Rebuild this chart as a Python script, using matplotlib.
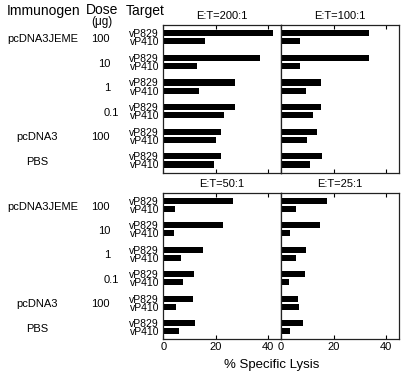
import matplotlib
matplotlib.use("Agg")
import matplotlib.pyplot as plt
import matplotlib.transforms as mtransforms

plt.rcParams['font.family'] = ['Liberation Sans', 'DejaVu Sans']

# data
targets = ["vP829", "vP410"]
immunogens = ["pcDNA3JEME", "", "", "", "pcDNA3", "PBS"]
doses = ["100", "10", "1", "0.1", "100", ""]
ratios = ["E:T=200:1", "E:T=100:1", "E:T=50:1", "E:T=25:1"]

# % specific lysis, per group: (vP829, vP410)
lysis_200 = [(41.9, 16.0), (37.1, 13.0), (27.5, 13.6), (27.6, 23.2), (22.0, 20.0), (22.0, 19.2)]
lysis_100 = [(33.6, 7.3), (33.5, 7.4), (15.1, 9.6), (15.4, 12.3), (13.8, 10.0), (15.6, 10.9)]
lysis_50 = [(26.8, 4.3), (22.8, 3.9), (15.1, 6.8), (11.6, 7.6), (11.5, 4.8), (12.2, 5.9)]
lysis_25 = [(17.6, 5.7), (14.9, 3.6), (9.6, 5.7), (9.2, 3.1), (6.4, 6.9), (8.5, 3.6)]
all_lysis = [lysis_200, lysis_100, lysis_50, lysis_25]

W, H = 407, 379
fig = plt.figure(figsize=(W / 100, H / 100), dpi=100)

# panel boxes in pixels (left, top, right, bottom)
boxes = [(163.3, 25, 281, 172.7), (281, 25, 399.3, 172.7),
         (163.3, 192.7, 281, 339.3), (281, 192.7, 399.3, 339.3)]

axes = []
for k, (l, t, r, b) in enumerate(boxes):
    ax = fig.add_axes([l / W, 1 - b / H, (r - l) / W, (b - t) / H])
    vals = all_lysis[k]
    ypos, xs = [], []
    for i, (a, c) in enumerate(vals):
        ypos += [3 * i, 3 * i + 1]
        xs += [a, c]
    ax.barh(ypos, xs, height=0.75, color='black')
    ax.set_xlim(0, 45)
    ax.set_ylim(17, -1)
    ax.set_xticks([0, 20, 40])
    ax.tick_params(axis='x', direction='in', top=True, length=3, width=0.8,
                   labelsize=8, pad=2)
    ax.set_title(ratios[k], fontsize=8, pad=4)
    if k % 2 == 0:
        ax.set_yticks(ypos)
        ax.set_yticklabels(targets * 6)
        ax.tick_params(axis='y', length=0, labelsize=7.5, pad=3)
    else:
        ax.set_yticks([])
    if k < 2:
        ax.set_xticklabels([])
    for s in ax.spines.values():
        s.set_linewidth(0.9)
        s.set_color('#222222')
    axes.append(ax)

# left-hand labels
imm_x = [42.5, 0, 0, 0, 37.5, 37.5]
dose_x = [100, 104, 107, 111.5, 100, 0]
for ax in (axes[0], axes[2]):
    tr = mtransforms.blended_transform_factory(fig.transFigure, ax.transData)
    for i in range(6):
        y = 3 * i + 0.7
        if immunogens[i]:
            fig.text(imm_x[i] / W, y, immunogens[i], transform=tr, fontsize=8,
                     ha='center', va='center')
        if doses[i]:
            fig.text(dose_x[i] / W, y, doses[i], transform=tr, fontsize=8,
                     ha='center', va='center')

# headers
fig.text(43.5 / W, 1 - 14.5 / H, "Immunogen", fontsize=10, ha='center', va='baseline')
fig.text(102 / W, 1 - 14.5 / H, "Dose", fontsize=10, ha='center', va='baseline')
fig.text(101.5 / W, 1 - 22 / H, "(\u03bcg)", fontsize=8.5, ha='center', va='center')
fig.text(145 / W, 1 - 14.5 / H, "Target", fontsize=10, ha='center', va='baseline')

fig.text(272 / W, 1 - 365 / H, "% Specific Lysis", fontsize=9.5, ha='center', va='center')

fig.savefig("out.png", dpi=100)
